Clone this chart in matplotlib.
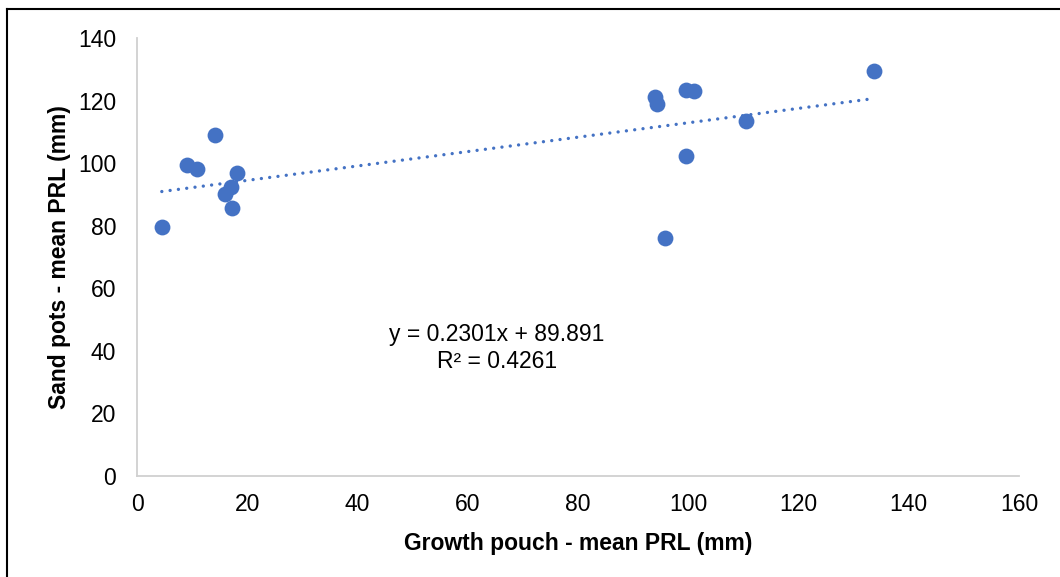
import matplotlib
matplotlib.use("Agg")
import matplotlib.pyplot as plt
import numpy as np
from matplotlib.lines import Line2D

plt.rcParams['font.family'] = ['Liberation Sans', 'DejaVu Sans']

growth_pouch = [4.5, 9.1, 10.9, 14.1, 16.0, 17.1, 17.2, 18.1,
                94.0, 94.4, 95.8, 99.6, 99.6, 101.0, 110.5, 133.7]
sand_pots = [79.6, 99.4, 98.1, 109.0, 90.1, 92.4, 85.7, 96.8,
             121.1, 118.9, 76.1, 123.4, 102.3, 123.1, 113.5, 129.4]
slope = 0.2301
intercept = 89.891
r2 = 0.4261
x_ticks = [0, 20, 40, 60, 80, 100, 120, 140, 160]
y_ticks = [0, 20, 40, 60, 80, 100, 120, 140]

blue = '#4472C4'
W, H = 1060, 577
fig = plt.figure(figsize=(W / 100, H / 100), dpi=100)
ax = fig.add_axes([137 / W, 1 - 476 / H, (1019 - 137) / W, (476 - 38) / H])

ax.scatter(growth_pouch, sand_pots, s=130, color=blue, zorder=3, linewidths=0)
xs = np.array([min(growth_pouch), max(growth_pouch)])
ax.plot(xs, slope * xs + intercept, color=blue, lw=2.4,
        linestyle=(0, (0.01, 2.5)), dash_capstyle='round', zorder=2)

ax.set_xlim(0, 160)
ax.set_ylim(0, 140)
ax.set_xticks(x_ticks)
ax.set_yticks(y_ticks)
ax.tick_params(axis='both', length=0, labelsize=16.5, colors='#000000')
ax.tick_params(axis='y', pad=15)
ax.tick_params(axis='x', pad=12)
for s in ['top', 'right']:
    ax.spines[s].set_visible(False)
for s in ['left', 'bottom']:
    ax.spines[s].set_color('#D0D0D0')
    ax.spines[s].set_linewidth(1.3)

ax.set_xlabel('Growth pouch - mean PRL (mm)', fontsize=16.5, fontweight='bold', labelpad=12)
ax.set_ylabel('Sand pots - mean PRL (mm)', fontsize=16.5, fontweight='bold', labelpad=5)

ax.text(65.3, 41.0, f'y = {slope}x + {intercept}\nR² = {r2}', fontsize=16.5,
        ha='center', va='center', multialignment='center', linespacing=1.2)

fig.add_artist(Line2D([6.5 / W, 6.5 / W], [0, 1 - 8.5 / H], transform=fig.transFigure,
                      color='black', lw=1.5))
fig.add_artist(Line2D([6.5 / W, 1], [1 - 8.5 / H, 1 - 8.5 / H], transform=fig.transFigure,
                      color='black', lw=1.5))

fig.savefig('out.png', dpi=100)
